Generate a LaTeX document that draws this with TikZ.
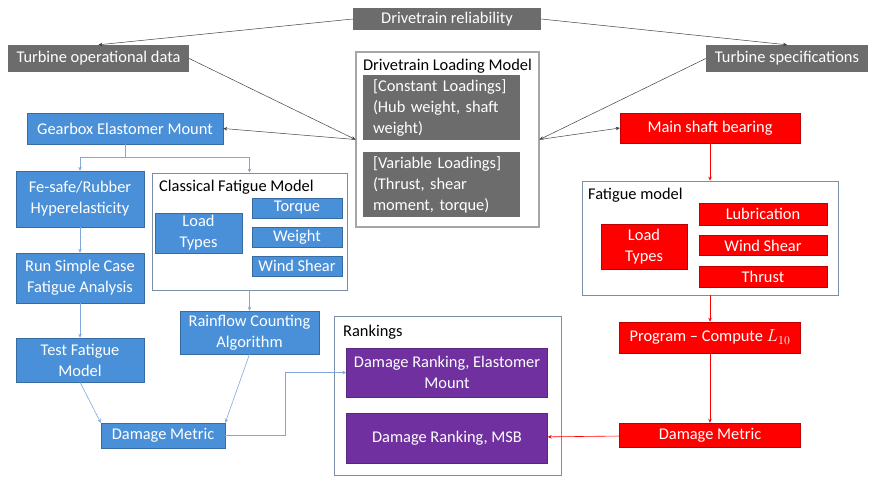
\documentclass[tikz,border=0pt]{standalone}
\usepackage{fontspec}
\setmainfont{Carlito}
\usetikzlibrary{arrows.meta}

\definecolor{drvgray}{RGB}{108,108,108}
\definecolor{drvblue}{RGB}{74,144,216}
\definecolor{drvred}{RGB}{255,0,0}
\definecolor{drvpurple}{RGB}{112,48,160}
\definecolor{framecol}{RGB}{122,142,170}
\definecolor{bluelink}{RGB}{128,168,220}

\begin{document}
\begin{tikzpicture}[
		x=1pt, y=-1pt,
		>={Stealth[length=4pt,width=3.5pt]},
		every node/.style={inner sep=0pt, font=\fontsize{16.4}{21}\selectfont},
		gbox/.style={fill=drvgray, text=white, align=center},
		bbox/.style={fill=drvblue, draw=drvblue!75!black, line width=0.4pt, text=white, align=center},
		rbox/.style={fill=drvred, draw=drvred!75!black, line width=0.4pt, text=white, align=center},
		pbox/.style={fill=drvpurple, draw=drvpurple!80!black, line width=0.4pt, text=white, align=center},
		frame/.style={draw=framecol, line width=0.8pt},
		title/.style={anchor=west, text=black},
		blk/.style={->, draw=black!75, line width=0.5pt},
		blu/.style={->, draw=bluelink, line width=0.6pt},
		rdl/.style={->, color=drvred, line width=0.6pt},
		]
		\useasboundingbox (0,0) rectangle (871,477);
		
		% top row
		\node[gbox, minimum width=188pt, minimum height=22pt] (rel) at (447,19) {Drivetrain reliability};
		\node[gbox, minimum width=181pt, minimum height=27pt] (opd) at (98.5,58.5) {Turbine operational data};
		\node[gbox, minimum width=162pt, minimum height=27pt] (spec) at (787,58.5) {Turbine specifications};
		
		% loading model
		\node[draw=black!35, line width=1.2pt, minimum width=183pt, minimum height=175pt] (dlm) at (447.5,139.5) {};
		\node (dlmt) at (447.5,66) {Drivetrain Loading Model};
		\node[gbox, align=left, text width=137pt, inner xsep=10pt, minimum height=65pt] (cl) at (441.5,107.5) {[Constant Loadings]\\(Hub weight, shaft\\weight)};
		\node[gbox, align=left, text width=137pt, inner xsep=10pt, minimum height=65pt] (vl) at (441.5,184.5) {[Variable Loadings]\\(Thrust, shear\\moment, torque)};
		
		% elastomer mount branch
		\node[bbox, minimum width=196pt, minimum height=31pt] (gem) at (125,128.5) {Gearbox Elastomer Mount};
		\node[bbox, minimum width=128pt, minimum height=56pt] (fes) at (80,199) {Fe-safe/Rubber\\Hyperelasticity};
		\node[bbox, minimum width=128pt, minimum height=50pt] (run) at (80,278) {Run Simple Case\\Fatigue Analysis};
		\node[bbox, minimum width=128pt, minimum height=44pt] (tst) at (80,360) {Test Fatigue\\Model};
		
		\node[frame, minimum width=195pt, minimum height=117pt] (cfm) at (249.5,231.5) {};
		\node[title] (cfmt) at (159,187) {Classical Fatigue Model};
		\node[bbox, minimum width=87pt, minimum height=40pt] (lt1) at (198.5,233) {Load\\Types};
		\node[bbox, minimum width=90pt, minimum height=20pt] (tq) at (297,208) {Torque};
		\node[bbox, minimum width=90pt, minimum height=20pt] (wt) at (297,237) {Weight};
		\node[bbox, minimum width=90pt, minimum height=20pt] (ws1) at (297,266) {Wind Shear};
		
		\node[bbox, minimum width=139pt, minimum height=43pt] (rfc) at (249.5,332.5) {Rainflow Counting\\Algorithm};
		\node[bbox, minimum width=124pt, minimum height=25pt] (dmb) at (163,435.5) {Damage Metric};
		
		% rankings
		\node[frame, minimum width=227pt, minimum height=159pt] (rnk) at (447.5,395.5) {};
		\node[title] (rnkt) at (343,332) {Rankings};
		\node[pbox, minimum width=201pt, minimum height=49pt] (dre) at (447,372.5) {Damage Ranking, Elastomer\\Mount};
		\node[pbox, minimum width=201pt, minimum height=50pt] (drm) at (447,438) {Damage Ranking, MSB};
		
		% main shaft bearing branch
		\node[rbox, minimum width=180pt, minimum height=30pt] (msb) at (710,128) {Main shaft bearing};
		\node[frame, minimum width=256pt, minimum height=114pt] (fat) at (710,238) {};
		\node[title] (fatt) at (588,195) {Fatigue model};
		\node[rbox, minimum width=86pt, minimum height=45pt] (lt2) at (644,246.5) {Load\\Types};
		\node[rbox, minimum width=128pt, minimum height=22pt] (lub) at (763,214) {Lubrication};
		\node[rbox, minimum width=128pt, minimum height=20pt] (ws2) at (763,245.5) {Wind Shear};
		\node[rbox, minimum width=128pt, minimum height=21pt] (thr) at (763,276.5) {Thrust};
		\node[rbox, minimum width=181pt, minimum height=31pt] (prg) at (710,337.5) {Program -- Compute $L_{10}$};
		\node[rbox, minimum width=181pt, minimum height=24pt] (dmr) at (710,435) {Damage Metric};
		
		% connectors, top
		\draw[blk] (rel.west) -- (opd.north);
		\draw[blk] (rel.east) -- (spec.north);
		\draw[blk] (opd.east) -- (dlm.west);
		\draw[blk] (dlm.west) -- (gem.east);
		\draw[blk] (spec.west) -- (dlm.east);
		\draw[blk] (dlm.east) -- (msb.west);
		
		% connectors, elastomer mount
		\coordinate (split) at (125,157);
		\draw[bluelink, line width=0.6pt] (gem.south) -- (split);
		\draw[blu] (split) -| (fes.north);
		\draw[blu] (split) -| (cfm.north);
		\draw[blu] (fes) -- (run);
		\draw[blu] (run) -- (tst);
		\draw[blu] (cfm) -- (rfc);
		\draw[blu] (tst.south) -- (dmb.north west);
		\draw[blu] (rfc.south) -- (dmb.north east);
		\draw[blu] (dmb.east) -- ++(60,0) |- (dre.west);
		
		% connectors, main shaft bearing
		\draw[rdl] (msb) -- (fat);
		\draw[rdl] (fat) -- (prg);
		\draw[rdl] (prg) -- (dmr);
		\draw[rdl] (dmr) -- (drm);
		
	\end{tikzpicture}
\end{document}
